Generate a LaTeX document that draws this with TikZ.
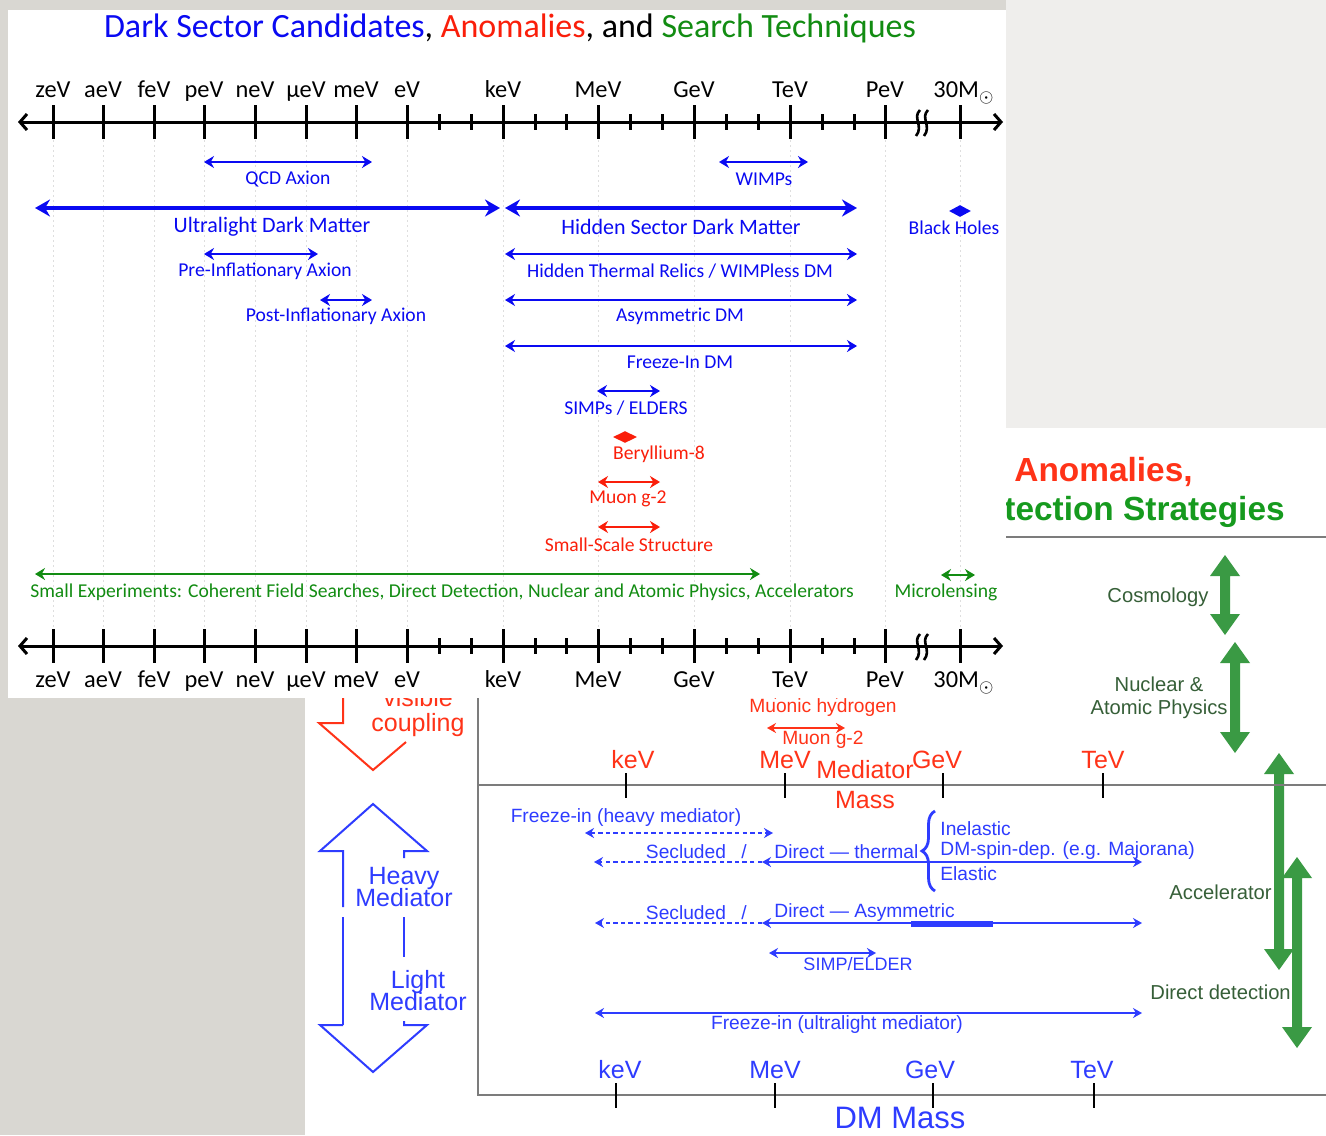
\documentclass[tikz,border=0pt]{standalone}
\usepackage{fontspec}
\setmainfont{Carlito}
\newfontfamily\hv{Liberation Sans}
\usetikzlibrary{arrows.meta,decorations.pathreplacing,shapes.geometric}
\definecolor{bgdark}{HTML}{D9D7D2}
\definecolor{bglight}{HTML}{EFEEEC}
\definecolor{tblue}{HTML}{0A0AF2}
\definecolor{tred}{HTML}{FA1E0A}
\definecolor{tgreen}{HTML}{128C12}
\definecolor{lblue}{HTML}{2E3CFF}
\definecolor{lred}{HTML}{FF3318}
\definecolor{garrow}{HTML}{3A9A44}
\definecolor{gtext}{HTML}{365F38}
\definecolor{ggreen}{HTML}{169A1E}
\definecolor{framegray}{HTML}{7C7C7C}
\newcommand\gdblarrow[3]{%
  \fill[garrow] (#1,#2) -- ({#1+15},{#2+21}) -- ({#1+5},{#2+21}) -- ({#1+5},{#3-21}) -- ({#1+15},{#3-21}) -- (#1,#3) -- ({#1-15},{#3-21}) -- ({#1-5},{#3-21}) -- ({#1-5},{#2+21}) -- ({#1-15},{#2+21}) -- cycle;}
\begin{document}
\begin{tikzpicture}[x=0.5pt,y=-0.5pt,
  lab/.style={font=\fontsize{9.8}{11}\selectfont, inner sep=0pt},
  biglab/.style={font=\fontsize{11}{13}\selectfont, inner sep=0pt},
  axlab/.style={font=\fontsize{12.2}{14}\selectfont, inner sep=0pt, anchor=base},
  axisline/.style={line width=1.5pt, black},
  rng/.style={line width=1.3pt, {Stealth[length=5pt,width=6pt]}-{Stealth[length=5pt,width=6pt]}},
  bigrng/.style={line width=2.3pt, {Stealth[length=7.5pt,width=8.5pt]}-{Stealth[length=7.5pt,width=8.5pt]}},
  ltxt/.style={font=\hv\fontsize{9.6}{11}\selectfont, inner sep=0pt},
  laxlab/.style={font=\hv\fontsize{12.5}{14}\selectfont, inner sep=0pt},
  gtxt/.style={font=\hv\fontsize{10.1}{11.5}\selectfont, inner sep=0pt, text=gtext},
  lline/.style={line width=1pt},
  ldash/.style={line width=1pt, dash pattern=on 2.2pt off 1.6pt},
  lrng/.style={line width=1pt, {Stealth[length=4.5pt,width=5pt]}-{Stealth[length=4.5pt,width=5pt]}},
  ltipr/.style={-{Stealth[length=4.5pt,width=5pt]}},
  ltipb/.style={{Stealth[length=4.5pt,width=5pt]}-{Stealth[length=4.5pt,width=5pt]}},
  outl/.style={line width=1pt}
]
\useasboundingbox (0,0) rectangle (1326,1135);
% backgrounds
\fill[bgdark] (0,0) rectangle (1326,1135);
\fill[bglight] (1006,0) rectangle (1326,428);
\fill[white] (305,428) rectangle (1326,1135);

% ===== second slide =====
\node[font=\hv\bfseries\fontsize{16.7}{19}\selectfont, text=lred, inner sep=0pt, anchor=west] (anom) at (1014,472) {Anomalies,};
\node[font=\hv\bfseries\fontsize{16.7}{19}\selectfont, text=ggreen, inner sep=0pt, anchor=west] (strat) at (1004,512) {tection Strategies};
\draw[framegray, line width=1pt] (1006,537) -- (1326,537);

\gdblarrow{1225}{555}{635}
\gdblarrow{1235}{642}{753}
\gdblarrow{1279}{753}{970}
\gdblarrow{1297}{857}{1048}
\node[gtxt] (cosmo) at (1158,597) {Cosmology};
\node[gtxt, align=center] (nuc) at (1159,698) {Nuclear \&\\Atomic Physics};
\node[gtxt, anchor=east] (accel) at (1272,892) {Accelerator};
\node[gtxt, anchor=west] (ddet) at (1150,992) {Direct detection};

% frame
\draw[framegray, line width=1pt] (478,690) -- (478,1095) -- (1326,1095);
\draw[framegray, line width=1pt] (478,785) -- (1326,785);
\foreach \x in {626,785,943,1103} \draw[line width=1pt] (\x,773) -- (\x,798);
\foreach \x in {616,775,933,1094} \draw[line width=1pt] (\x,1083) -- (\x,1108);

% mediator axis labels
\node[laxlab, text=lred] (mkeV) at (633,760) {keV};
\node[laxlab, text=lred] (mMeV) at (785,760) {MeV};
\node[laxlab, text=lred] (mGeV) at (937,760) {GeV};
\node[laxlab, text=lred] (mTeV) at (1103,760) {TeV};
\node[laxlab, text=lred] (medi) at (865,770) {Mediator};
\node[laxlab, text=lred] (mass) at (865,800) {Mass};
% DM axis labels
\node[laxlab, text=lblue] (dkeV) at (620,1070) {keV};
\node[laxlab, text=lblue] (dMeV) at (775,1070) {MeV};
\node[laxlab, text=lblue] (dGeV) at (930,1070) {GeV};
\node[laxlab, text=lblue] (dTeV) at (1092,1070) {TeV};
\node[font=\hv\fontsize{15.5}{18}\selectfont, text=lblue, inner sep=0pt] (dmm) at (900,1118) {DM Mass};

% red anomaly arrows
\coordinate (mhA) at (767,694); \coordinate (mhB) at (845,694);
\draw[lrng, lred] (mhA) -- (mhB);
\node[ltxt, text=lred] (muh) at (823,708) {Muonic hydrogen};
\coordinate (mgA) at (767,728); \coordinate (mgB) at (845,728);
\draw[lrng, lred] (mgA) -- (mgB);
\node[ltxt, text=lred] (mug) at (823,740) {Muon g-2};

% blue rows
\node[ltxt, text=lblue] (fzh) at (626,818) {Freeze-in (heavy mediator)};
\coordinate (fzhA) at (585,833); \coordinate (fzhB) at (773,833);
\draw[ldash, ltipb, lblue] (fzhA) -- (fzhB);

\coordinate (r1l) at (594,862); \coordinate (r1m) at (762,862); \coordinate (r1r) at (1142,862);
\draw[ldash, ltipr, lblue] (r1m) -- (r1l);
\draw[lrng, lblue] (r1m) -- (r1r);
\node[ltxt, text=lblue] (sec1) at (686,852) {Secluded};
\node[ltxt, text=lblue] (sl1) at (744,852) {/};
\node[ltxt, text=lblue, anchor=west] (dth) at (774,852) {Direct — thermal};
\draw[lblue, line width=1.4pt, decorate, decoration={brace, amplitude=6.5pt}] (935,891) -- (935,811);
\node[ltxt, text=lblue, anchor=west] (inel) at (940,829) {Inelastic};
\node[ltxt, text=lblue, anchor=west] (spin) at (940,851) {DM-spin-dep. (e.g. Majorana)};
\node[ltxt, text=lblue, anchor=west] (elas) at (940,874) {Elastic};

\coordinate (r2l) at (595,923); \coordinate (r2m) at (762,923); \coordinate (r2r) at (1142,923);
\draw[ldash, ltipr, lblue] (r2m) -- (r2l);
\draw[lrng, lblue] (r2m) -- (r2r);
\draw[lblue, line width=2.6pt] (911,924) -- (993,924);
\node[ltxt, text=lblue] (sec2) at (686,913) {Secluded};
\node[ltxt, text=lblue] (sl2) at (744,913) {/};
\node[ltxt, text=lblue, anchor=west] (dasy) at (774,913) {Direct — Asymmetric};

\coordinate (spA) at (769,953); \coordinate (spB) at (876,953);
\draw[lrng, lblue] (spA) -- (spB);
\node[font=\hv\fontsize{9}{10}\selectfont, inner sep=0pt, text=lblue] (simp) at (858,964) {SIMP/ELDER};

\coordinate (fuA) at (595,1013); \coordinate (fuB) at (1142,1013);
\draw[lrng, lblue] (fuA) -- (fuB);
\node[ltxt, text=lblue] (fzu) at (837,1025) {Freeze-in (ultralight mediator)};

% left block arrows
\draw[lred, outl] (343,690) -- (343,723) -- (319,723) -- (373,770) -- (406,742);
\node[laxlab, text=lred] (vis) at (418,698) {visible};
\node[laxlab, text=lred] (coup) at (418,725) {coupling};
\draw[lblue, outl] (343,1025) -- (343,917);
\draw[lblue, outl] (343,907) -- (343,851) -- (320,851) -- (373,804) -- (427,851) -- (404,851) -- (404,858);
\draw[lblue, outl] (404,917) -- (404,957);
\draw[lblue, outl] (404,1021) -- (404,1025) -- (427,1025) -- (373,1072) -- (320,1025) -- (343,1025);
\node[laxlab, text=lblue, align=center] (heavy) at (404,887) {Heavy\\[-3pt]Mediator};
\node[laxlab, text=lblue, align=center] (light) at (418,991) {Light\\[-3pt]Mediator};

% ===== top slide =====
\fill[white] (8,10) rectangle (1006,698);
\node[font=\fontsize{17}{20}\selectfont, inner sep=0pt] (title) at (510,28)
  {\textcolor{tblue}{Dark Sector Candidates}, \textcolor{tred}{Anomalies}, and \textcolor{tgreen}{Search Techniques}};

% dotted guides
\foreach \x in {53,103,154,204,255,306,356,407,503,598,694,790,885,960}
  \draw[black!13, line width=0.5pt, dash pattern=on 1pt off 1.5pt] (\x,140) -- (\x,628);

% axes
\foreach \y/\ly/\lb in {122/97/t, 646/687/b}{
  \draw[axisline, {Straight Barb[length=3.5pt,width=8pt]}-{Straight Barb[length=3.5pt,width=8pt]}] (18,\y) -- (1003,\y);
  \foreach \x in {53,103,154,204,255,306,356,407,503,598,694,790,885,960}
    \draw[axisline] (\x,\y-17) -- (\x,\y+17);
  \foreach \x in {439,471,535,566,630,662,726,758,822,854}
    \draw[axisline] (\x,\y-8) -- (\x,\y+8);
  \foreach \s in {918,926}
    \draw[line width=1.3pt] (\s+2,\y-12) .. controls (\s-6,\y-4) and (\s+6,\y+4) .. (\s-2,\y+14);
  \foreach \x/\t in {53/zeV,103/aeV,154/feV,204/peV,255/neV,306/μeV,356/meV,407/eV,503/keV,598/MeV,694/GeV,790/TeV,885/PeV}
    \node[axlab] (ax\lb\t) at (\x,\ly) {\t};
  \node[axlab, anchor=base west] (ax\lb30) at (933,\ly) {30M\raisebox{-2.5pt}{\fontsize{9}{9}\selectfont$\odot$}};
}

% candidates
\coordinate (qcdA) at (204,162); \coordinate (qcdB) at (372,162);
\draw[rng, tblue] (qcdA) -- (qcdB);
\node[lab, text=tblue] (qcd) at (288,179) {QCD Axion};
\coordinate (wA) at (719,162); \coordinate (wB) at (808,162);
\draw[rng, tblue] (wA) -- (wB);
\node[lab, text=tblue] (wimp) at (764,179) {WIMPs};

\coordinate (ulA) at (35,208); \coordinate (ulB) at (500,208);
\draw[bigrng, tblue] (ulA) -- (ulB);
\node[biglab, text=tblue] (uldm) at (272,227) {Ultralight Dark Matter};
\coordinate (hsA) at (505,208); \coordinate (hsB) at (857,208);
\draw[bigrng, tblue] (hsA) -- (hsB);
\node[biglab, text=tblue] (hsdm) at (681,227) {Hidden Sector Dark Matter};
\node[diamond, fill=tblue, minimum width=11pt, minimum height=6pt, inner sep=0pt] (bhd) at (960,211) {};
\node[lab, text=tblue] (bh) at (954,228) {Black Holes};

\coordinate (piA) at (204,254); \coordinate (piB) at (318,254);
\draw[rng, tblue] (piA) -- (piB);
\node[lab, text=tblue] (pre) at (265,271) {Pre-Inflationary Axion};
\coordinate (htA) at (505,254); \coordinate (htB) at (857,254);
\draw[rng, tblue] (htA) -- (htB);
\node[lab, text=tblue] (htr) at (680,271) {Hidden Thermal Relics / WIMPless DM};

\coordinate (poA) at (320,300); \coordinate (poB) at (372,300);
\draw[rng, tblue] (poA) -- (poB);
\node[lab, text=tblue] (post) at (336,316) {Post-Inflationary Axion};
\coordinate (asA) at (505,300); \coordinate (asB) at (857,300);
\draw[rng, tblue] (asA) -- (asB);
\node[lab, text=tblue] (asym) at (680,316) {Asymmetric DM};

\coordinate (fiA) at (505,346); \coordinate (fiB) at (857,346);
\draw[rng, tblue] (fiA) -- (fiB);
\node[lab, text=tblue] (frz) at (680,362) {Freeze-In DM};

\coordinate (siA) at (597,391); \coordinate (siB) at (660,391);
\draw[rng, tblue] (siA) -- (siB);
\node[lab, text=tblue] (simps) at (626,408) {SIMPs / ELDERS};

\node[diamond, fill=tred, minimum width=12pt, minimum height=6pt, inner sep=0pt] (bed) at (625,437) {};
\node[lab, text=tred] (be) at (659,454) {Beryllium-8};
\coordinate (mgtA) at (598,482); \coordinate (mgtB) at (660,482);
\draw[rng, tred] (mgtA) -- (mgtB);
\node[lab, text=tred] (mgt) at (628,499) {Muon g-2};
\coordinate (ssA) at (598,527); \coordinate (ssB) at (660,527);
\draw[rng, tred] (ssA) -- (ssB);
\node[lab, text=tred] (sss) at (629,545) {Small-Scale Structure};

\coordinate (seA) at (35,574); \coordinate (seB) at (760,574);
\draw[rng, tgreen] (seA) -- (seB);
\node[lab, text=tgreen] (smexp) at (442,592) {Small Experiments: Coherent Field Searches, Direct Detection, Nuclear and Atomic Physics, Accelerators};
\coordinate (mlA) at (941,575); \coordinate (mlB) at (975,575);
\draw[rng, tgreen] (mlA) -- (mlB);
\node[lab, text=tgreen] (micro) at (946,592) {Microlensing};
\end{tikzpicture}
\end{document}
